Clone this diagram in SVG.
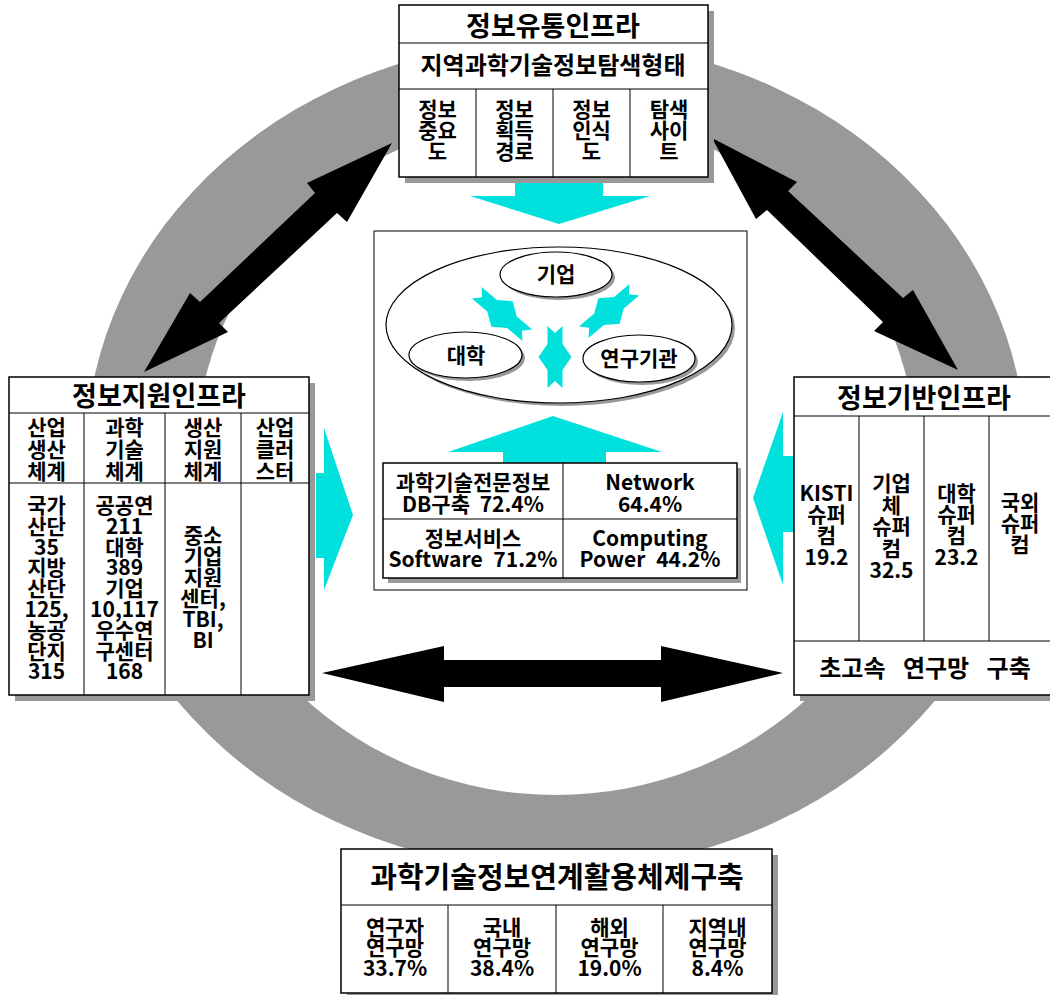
<svg xmlns="http://www.w3.org/2000/svg" width="1050" height="995" viewBox="0 0 1050 995">
<style>
.t{font-family:"Noto Sans CJK KR","Noto Sans",sans-serif;font-weight:bold;text-anchor:middle;fill:#000}
.box{fill:#fff;stroke:#000;stroke-width:1.5}
.sh{fill:#999}
.ln{stroke:#000;stroke-width:1;fill:none}
.cy{fill:#00E1DD}
.bk{fill:#000}
.el{fill:#fff;stroke:#000;stroke-width:1.2}
.f27{font-size:27px}.f24{font-size:24px}.f21{font-size:21px}.f29{font-size:29px}.f24b{font-size:24px}
</style>
<rect width="1050" height="995" fill="#fff"/>
<path d="M86,455 A470,415 0 1,0 1026,455 A470,415 0 1,0 86,455 Z M196,455 A360,340 0 1,1 916,455 A360,340 0 1,1 196,455 Z" fill="#999" fill-rule="evenodd"/>

<g id="connectors">
<polygon class="bk" points="392,143 347,222 337,213 219,323 228,332 144,372 190,293 200,302 315,193 307,183"/>
<polygon class="bk" points="712,138 797,182 788,191 903,298 913,290 958,370 874,331 883,322 767,210 756,219"/>
<polygon class="bk" points="322,673 444,646 444,660 661,660 661,646 783,673 661,702 661,687 444,687 444,702"/>
<polygon class="cy" points="515,183 603,183 603,196 650,196 559,224 470,196 515,196"/>
<polygon class="cy" points="316,473 324,473 324,428 353,515 324,590 324,558 316,558"/>
<polygon class="cy" points="753,498 783,412 783,456 794,456 794,532 783,532 783,585"/>
</g>

<g id="top">
<rect class="sh" x="405" y="11" width="309" height="172"/>
<rect class="box" x="399" y="5" width="309" height="172"/>
<line class="ln" x1="399" y1="43" x2="708" y2="43"/>
<line class="ln" x1="399" y1="89" x2="708" y2="89"/>
<line class="ln" x1="476" y1="89" x2="476" y2="177"/>
<line class="ln" x1="553" y1="89" x2="553" y2="177"/>
<line class="ln" x1="630" y1="89" x2="630" y2="177"/>
<text class="t f27" x="553" y="36">정보유통인프라</text>
<text class="t f24" x="553" y="74">지역과학기술정보탐색형태</text>
<text class="t f21" y="117"><tspan x="437.5">정보</tspan><tspan x="437.5" dy="21">중요</tspan><tspan x="437.5" dy="21">도</tspan></text>
<text class="t f21" y="117"><tspan x="514.5">정보</tspan><tspan x="514.5" dy="21">획득</tspan><tspan x="514.5" dy="21">경로</tspan></text>
<text class="t f21" y="117"><tspan x="591.5">정보</tspan><tspan x="591.5" dy="21">인식</tspan><tspan x="591.5" dy="21">도</tspan></text>
<text class="t f21" y="117"><tspan x="669">탐색</tspan><tspan x="669" dy="21">사이</tspan><tspan x="669" dy="21">트</tspan></text>
</g>

<g id="center">
<rect x="374" y="231" width="373" height="359" fill="#fff" stroke="#000" stroke-width="1"/>
<ellipse class="sh" cx="562" cy="328" rx="173" ry="78"/>
<ellipse class="el" cx="559" cy="325" rx="173" ry="78"/>
<ellipse class="sh" cx="559" cy="277.5" rx="56" ry="22.5"/>
<ellipse class="el" cx="556" cy="274.5" rx="56" ry="22.5"/>
<text class="t f21" x="556" y="282">기업</text>
<ellipse class="sh" cx="468.5" cy="358" rx="56.5" ry="23"/>
<ellipse class="el" cx="465.5" cy="355" rx="56.5" ry="23"/>
<text class="t f21" x="466" y="363">대학</text>
<ellipse class="sh" cx="642" cy="361.5" rx="56" ry="23.5"/>
<ellipse class="el" cx="639" cy="358.5" rx="56" ry="23.5"/>
<text class="t f21" x="639" y="366">연구기관</text>
<g id="small-arrows">
<polygon class="cy" transform="translate(555,357)" points="-7.5,-31 0,-24 7.5,-31 7.5,-13 16.5,0 7.5,13 7.5,31 0,24 -7.5,31 -7.5,13 -16.5,0 -7.5,-13"/>
<polygon class="cy" transform="translate(502,314) rotate(-50)" points="-7.5,-33 0,-26 7.5,-33 7.5,-13 16.5,0 7.5,13 7.5,33 0,26 -7.5,33 -7.5,13 -16.5,0 -7.5,-13"/>
<polygon class="cy" transform="translate(609,311) rotate(50)" points="-7.5,-33 0,-26 7.5,-33 7.5,-13 16.5,0 7.5,13 7.5,33 0,26 -7.5,33 -7.5,13 -16.5,0 -7.5,-13"/>
</g>
<polygon class="cy" points="553,416 662,452 606,452 606,463 503,463 503,452 448,452"/>
<rect class="sh" x="388" y="468" width="353" height="115"/>
<rect class="box" x="383" y="463" width="354" height="115"/>
<line class="ln" x1="563" y1="463" x2="563" y2="578"/>
<line class="ln" x1="383" y1="519" x2="737" y2="519"/>
<text class="t f21" style="word-spacing:5px" y="490"><tspan x="473">과학기술전문정보</tspan><tspan x="473" dy="22">DB구축 72.4%</tspan></text>
<text class="t f21" y="490"><tspan x="650">Network</tspan><tspan x="650" dy="22">64.4%</tspan></text>
<text class="t f21" style="word-spacing:6px" y="546"><tspan x="473">정보서비스</tspan><tspan x="473" dy="21">Software 71.2%</tspan></text>
<text class="t f21" style="word-spacing:6px" y="546"><tspan x="650">Computing</tspan><tspan x="650" dy="21">Power 44.2%</tspan></text>
</g>

<g id="left">
<rect class="sh" x="15" y="383" width="300" height="318"/>
<rect class="box" x="9" y="377" width="300" height="318"/>
<line class="ln" x1="9" y1="413" x2="309" y2="413"/>
<line class="ln" x1="9" y1="483" x2="309" y2="483"/>
<line class="ln" x1="84" y1="413" x2="84" y2="695"/>
<line class="ln" x1="165" y1="413" x2="165" y2="695"/>
<line class="ln" x1="241" y1="413" x2="241" y2="695"/>
<text class="t f27" x="159" y="406">정보지원인프라</text>
<text class="t f21" y="435"><tspan x="46.5">산업</tspan><tspan x="46.5" dy="22">생산</tspan><tspan x="46.5" dy="22">체계</tspan></text>
<text class="t f21" y="435"><tspan x="124.5">과학</tspan><tspan x="124.5" dy="22">기술</tspan><tspan x="124.5" dy="22">체계</tspan></text>
<text class="t f21" y="435"><tspan x="203">생산</tspan><tspan x="203" dy="22">지원</tspan><tspan x="203" dy="22">체계</tspan></text>
<text class="t f21" y="435"><tspan x="275">산업</tspan><tspan x="275" dy="22">클러</tspan><tspan x="275" dy="22">스터</tspan></text>
<text class="t f21" y="513"><tspan x="46.5">국가</tspan><tspan x="46.5" dy="20.8">산단</tspan><tspan x="46.5" dy="20.8">35</tspan><tspan x="46.5" dy="20.8">지방</tspan><tspan x="46.5" dy="20.8">산단</tspan><tspan x="46.5" dy="20.8">125,</tspan><tspan x="46.5" dy="20.8">농공</tspan><tspan x="46.5" dy="20.8">단지</tspan><tspan x="46.5" dy="20.8">315</tspan></text>
<text class="t f21" y="513"><tspan x="124.5">공공연</tspan><tspan x="124.5" dy="20.8">211</tspan><tspan x="124.5" dy="20.8">대학</tspan><tspan x="124.5" dy="20.8">389</tspan><tspan x="124.5" dy="20.8">기업</tspan><tspan x="124.5" dy="20.8">10,117</tspan><tspan x="124.5" dy="20.8">우수연</tspan><tspan x="124.5" dy="20.8">구센터</tspan><tspan x="124.5" dy="20.8">168</tspan></text>
<text class="t f21" y="543"><tspan x="203">중소</tspan><tspan x="203" dy="21">기업</tspan><tspan x="203" dy="21">지원</tspan><tspan x="203" dy="21">센터,</tspan><tspan x="203" dy="21">TBI,</tspan><tspan x="203" dy="21">BI</tspan></text>
</g>

<g id="right">
<rect class="sh" x="800" y="383" width="262" height="318"/>
<rect class="box" x="794" y="377" width="262" height="318"/>
<line class="ln" x1="794" y1="416" x2="1050" y2="416"/>
<line class="ln" x1="794" y1="641" x2="1050" y2="641"/>
<line class="ln" x1="859" y1="416" x2="859" y2="641"/>
<line class="ln" x1="924" y1="416" x2="924" y2="641"/>
<line class="ln" x1="989" y1="416" x2="989" y2="641"/>
<text class="t f27" x="924" y="408">정보기반인프라</text>
<text class="t f21" y="501"><tspan x="826.5">KISTI</tspan><tspan x="826.5" dy="21">슈퍼</tspan><tspan x="826.5" dy="21">컴</tspan><tspan x="826.5" dy="22">19.2</tspan></text>
<text class="t f21" y="491"><tspan x="891.5">기업</tspan><tspan x="891.5" dy="21.5">체</tspan><tspan x="891.5" dy="21.5">슈퍼</tspan><tspan x="891.5" dy="21.5">컴</tspan><tspan x="891.5" dy="22">32.5</tspan></text>
<text class="t f21" y="501"><tspan x="956.5">대학</tspan><tspan x="956.5" dy="21">슈퍼</tspan><tspan x="956.5" dy="21">컴</tspan><tspan x="956.5" dy="22">23.2</tspan></text>
<text class="t f21" y="510"><tspan x="1020">국외</tspan><tspan x="1020" dy="21">슈퍼</tspan><tspan x="1020" dy="21">컴</tspan></text>
<text class="t f24b" style="word-spacing:12px" x="925" y="677">초고속 연구망 구축</text>
</g>

<g id="bottom">
<rect class="sh" x="347" y="855" width="431" height="144"/>
<rect class="box" x="341" y="849" width="431" height="144"/>
<line class="ln" x1="341" y1="905" x2="772" y2="905"/>
<line class="ln" x1="448" y1="905" x2="448" y2="993"/>
<line class="ln" x1="556" y1="905" x2="556" y2="993"/>
<line class="ln" x1="663" y1="905" x2="663" y2="993"/>
<text class="t f29" x="557" y="888">과학기술정보연계활용체제구축</text>
<text class="t f21" y="935"><tspan x="395">연구자</tspan><tspan x="395" dy="20">연구망</tspan><tspan x="395" dy="21">33.7%</tspan></text>
<text class="t f21" y="935"><tspan x="502">국내</tspan><tspan x="502" dy="20">연구망</tspan><tspan x="502" dy="21">38.4%</tspan></text>
<text class="t f21" y="935"><tspan x="609.5">해외</tspan><tspan x="609.5" dy="20">연구망</tspan><tspan x="609.5" dy="21">19.0%</tspan></text>
<text class="t f21" y="935"><tspan x="717.5">지역내</tspan><tspan x="717.5" dy="20">연구망</tspan><tspan x="717.5" dy="21">8.4%</tspan></text>
</g>
</svg>
